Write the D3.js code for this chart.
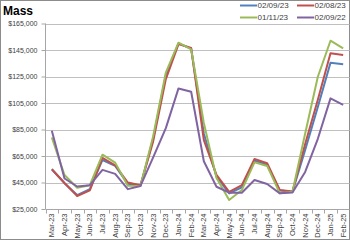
<!DOCTYPE html>
<html>
<head>
<meta charset="utf-8">
<script src="https://cdn.jsdelivr.net/npm/d3@7"></script>
<style>
  body { margin: 0; background: #fff; }
  svg { font-family: "Liberation Sans", Arial, sans-serif; }
  .axis path { stroke: #a6a6a6; }
  .axis line { stroke: #a6a6a6; }
  .axis text { fill: #404040; }
</style>
</head>
<body>
<svg width="350" height="240"></svg>
<script>
var months = ['Mar-23','Apr-23','May-23','Jun-23','Jul-23','Aug-23','Sep-23','Oct-23',
    'Nov-23','Dec-23','Jan-24','Feb-24','Mar-24','Apr-24','May-24','Jun-24',
    'Jul-24','Aug-24','Sep-24','Oct-24','Nov-24','Dec-24','Jan-25','Feb-25'];

var seriesNames = ['02/09/23', '02/08/23', '01/11/23', '02/09/22'];

var s020923 = [55000,44500,35500,40000,62000,57500,44000,42500,78000,126000,150000,146000,
    82000,49400,36800,41400,61500,58300,39000,38000,69500,102000,135400,134200];
var s020823 = [55000,44600,34800,39000,63500,58000,45000,43000,76000,123000,149500,146500,
    77000,50700,38000,43000,62700,59500,39300,38200,74000,107500,142500,141200];
var s011123 = [79000,50600,41000,43000,66000,60000,42500,42400,80000,128000,150500,145500,
    90000,48400,31800,39300,60200,57500,36800,38000,82000,124800,152000,146300];
var s020922 = [84000,48000,42000,43000,54500,51500,40000,42400,64000,86000,116000,113500,
    61000,41800,37300,37300,46900,43900,36800,37500,53000,78000,108500,103500];

var yTicks = [25000, 45000, 65000, 85000, 105000, 125000, 145000, 165000];

var colors = ['#4f81bd', '#c0504d', '#9bbb59', '#8064a2'];
var allSeries = [s020923, s020823, s011123, s020922];

var svg = d3.select('svg');

// chart border
svg.append('rect')
    .attr('x', 0.5).attr('y', 0.5)
    .attr('width', 349).attr('height', 239)
    .attr('fill', 'none')
    .attr('stroke', '#8c8c8c');

var xScale = d3.scaleBand()
    .domain(months)
    .range([45.5, 349.5])
    .padding(0);

var yScale = d3.scaleLinear()
    .domain([25000, 165000])
    .range([209, 23.5]);

// gridlines
svg.append('g')
    .selectAll('line')
    .data(yTicks.slice(1))
    .enter()
    .append('line')
    .attr('x1', 45.5)
    .attr('x2', 349.5)
    .attr('y1', function(d){ return Math.round(yScale(d)) + 0.5; })
    .attr('y2', function(d){ return Math.round(yScale(d)) + 0.5; })
    .attr('stroke', '#bfbfbf')
    .attr('stroke-width', 1);

var yAxis = d3.axisLeft(yScale)
    .tickValues(yTicks)
    .tickSize(4)
    .tickPadding(4)
    .tickFormat(function(d){ return '$' + d3.format(',')(d); });

svg.append('g')
    .attr('class', 'y axis')
    .attr('transform', 'translate(45.5,0)')
    .call(yAxis)
    .call(function(g){ g.select('.domain').attr('d', 'M0,' + yScale(165000) + 'V' + yScale(25000)); })
    .selectAll('text')
    .style('font-size', '7px');

// x axis with ticks between categories
var xAxisG = svg.append('g')
    .attr('class', 'x axis')
    .attr('transform', 'translate(0,209.5)');

xAxisG.append('line')
    .attr('x1', 45.5).attr('x2', 349.5)
    .attr('y1', 0).attr('y2', 0);

xAxisG.selectAll('line.tk')
    .data(months)
    .enter()
    .append('line')
    .attr('class', 'tk')
    .attr('x1', function(d){ return Math.round(xScale(d)) + 0.5; })
    .attr('x2', function(d){ return Math.round(xScale(d)) + 0.5; })
    .attr('y1', 0).attr('y2', 4);

xAxisG.selectAll('text')
    .data(months)
    .enter()
    .append('text')
    .attr('transform', function(d){
        return 'translate(' + (xScale(d) + xScale.bandwidth() / 2 + 2.5) + ',4) rotate(-90)';
    })
    .attr('text-anchor', 'end')
    .style('font-size', '7.5px')
    .text(function(d){ return d; });

// lines
var line = d3.line()
    .x(function(d, i){ return xScale(months[i]) + xScale.bandwidth() / 2; })
    .y(function(d){ return yScale(d); });

svg.append('g')
    .selectAll('path')
    .data(allSeries)
    .enter()
    .append('path')
    .attr('d', line)
    .attr('fill', 'none')
    .attr('stroke', function(d, i){ return colors[i]; })
    .attr('stroke-width', 2)
    .attr('stroke-linejoin', 'round');

// title
svg.append('text')
    .attr('x', 3)
    .attr('y', 15)
    .style('font-size', '12px')
    .style('font-weight', 'bold')
    .style('fill', '#000')
    .text('Mass');

// legend
var legendPos = [[240, 5.5], [297, 5.5], [240, 17.5], [297, 17.5]];

var legend = svg.append('g')
    .selectAll('g')
    .data(seriesNames)
    .enter()
    .append('g')
    .attr('transform', function(d, i){ return 'translate(' + legendPos[i][0] + ',' + legendPos[i][1] + ')'; });

legend.append('line')
    .attr('x1', 0).attr('x2', 17)
    .attr('y1', 0).attr('y2', 0)
    .attr('stroke', function(d, i){ return colors[i]; })
    .attr('stroke-width', 2);

legend.append('text')
    .attr('x', 17.5)
    .attr('y', 2.8)
    .style('font-size', '8px')
    .style('fill', '#404040')
    .text(function(d){ return d; });
</script>
</body>
</html>
